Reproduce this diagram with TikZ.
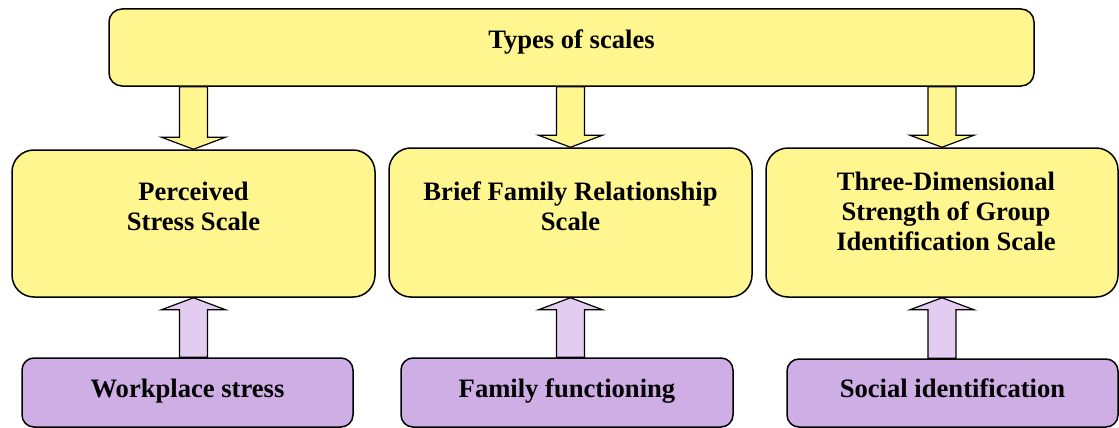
\documentclass[tikz,border=0pt]{standalone}
\usepackage{fontspec}
\setmainfont{Liberation Serif}
\usepackage{tikz}
\usetikzlibrary{calc}

\definecolor{scaleyellow}{RGB}{255,246,143}
\definecolor{basepurple}{RGB}{207,174,230}
\definecolor{liftpurple}{RGB}{226,204,240}

\tikzset{
	box/.style = {rectangle, draw, line width = 1.5pt, inner sep = 0pt},
	topbox/.style = {box, fill = scaleyellow, rounded corners = 13pt, minimum width = 925pt, minimum height = 77pt},
	scalebox/.style = {box, fill = scaleyellow, rounded corners = 22pt, minimum height = 149pt},
	basebox/.style = {box, fill = basepurple, rounded corners = 12pt, minimum height = 69pt},
	boxtext/.style = {anchor = north, inner sep = 0pt, align = center, font = \fontsize{26.6}{30}\selectfont\bfseries},
	downarrow/.style = {draw, fill = scaleyellow, line width = 1.2pt},
	uparrow/.style = {draw, fill = liftpurple, line width = 1.2pt}
}

% fat arrow: style, tail, tip
\newcommand{\fatarrow}[3]{%
	\draw[#1] let \p1 = (#2), \p2 = (#3), \p3 = ($(#3)!12pt!(#2)$) in
		(\x1-14pt, \y1) -- (\x1-14pt, \y3) -- (\x1-32pt, \y3) -- (\x1, \y2)
		-- (\x1+32pt, \y3) -- (\x1+14pt, \y3) -- (\x1+14pt, \y1) -- cycle;
}

\begin{document}
\begin{tikzpicture}[x = 1pt, y = 1pt]

\useasboundingbox (0, 0) rectangle (1119, -428);

%% Draw Top Box

\node[topbox] (types) at (571.5, -47.5) {};
\node[boxtext, yshift = -21.2pt] (typestext) at (types.north) {Types of scales};

%% Draw Scales

\node[scalebox, minimum width = 363pt, minimum height = 147pt] (pss) at (193.5, -223.5) {};
\node[scalebox, minimum width = 363pt] (bfrs) at (570.5, -222.5) {};
\node[scalebox, minimum width = 352pt] (tdsgis) at (942, -222.5) {};

\node[boxtext, yshift = -32.5pt] (psstext) at (pss.north) {Perceived\\Stress Scale};
\node[boxtext, yshift = -34.5pt] (bfrstext) at (bfrs.north) {Brief Family Relationship\\Scale};
\node[boxtext, yshift = -24.5pt, xshift = 4pt] (tdsgistext) at (tdsgis.north) {Three-Dimensional\\Strength of Group\\Identification Scale};

%% Draw Constructs

\node[basebox, minimum width = 331pt] (wps) at (187.5, -392.5) {};
\node[basebox, minimum width = 332pt] (ff) at (567, -392.5) {};
\node[basebox, minimum width = 331pt, minimum height = 68pt] (si) at (952.5, -393) {};

\node[boxtext, yshift = -21.5pt] (wpstext) at (wps.north) {Workplace stress};
\node[boxtext, yshift = -21.5pt] (fftext) at (ff.north) {Family functioning};
\node[boxtext, yshift = -20.5pt] (sitext) at (si.north) {Social identification};

%% Draw Arrows

\foreach \s/\b in {pss/wps, bfrs/ff, tdsgis/si}{
	\fatarrow{downarrow}{types.south -| \s.north}{\s.north}
	\fatarrow{uparrow}{\b.north -| \s.south}{\s.south}
}

\end{tikzpicture}
\end{document}
